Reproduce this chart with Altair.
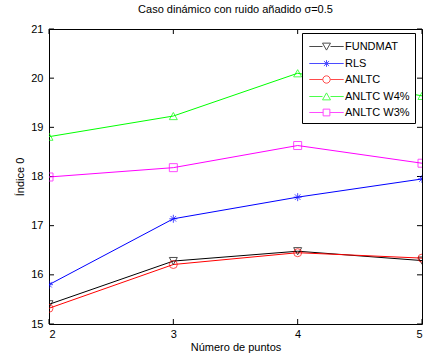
import altair as alt
import pandas as pd

# ---- data ----
x_puntos = [2, 3, 4, 5]
series = ["FUNDMAT", "RLS", "ANLTC", "ANLTC W4%", "ANLTC W3%"]
fundmat = [15.40, 16.28, 16.48, 16.29]
rls = [15.80, 17.14, 17.58, 17.95]
anltc = [15.32, 16.21, 16.45, 16.34]
anltc_w4 = [18.81, 19.23, 20.10, 19.64]
anltc_w3 = [17.99, 18.18, 18.63, 18.27]
colores = ["#000000", "#0000ff", "#ff0000", "#00ff00", "#ff00ff"]
x_ticks = [2, 3, 4, 5]
y_ticks = [15, 16, 17, 18, 19, 20, 21]

valores = [fundmat, rls, anltc, anltc_w4, anltc_w3]

# marker shapes (plot) and line+marker shapes (legend)
marcadores = [
    "M-1,-0.9L1,-0.9L0,0.9Z",
    "M-1,0L1,0M0,-1L0,1M-0.7,-0.7L0.7,0.7M-0.7,0.7L0.7,-0.7",
    "circle",
    "M-1,0.9L1,0.9L0,-0.9Z",
    "square",
]
# legend symbols: scale r = 8 px, line +-17 px, marker +-4 px
leyenda_simbolos = [
    "M-2.15,0L-0.5,0M0.5,0L2.15,0M-0.5,-0.42L0.5,-0.42L0,0.45Z",
    "M-2.15,0L2.15,0M0,-0.42L0,0.42M-0.32,-0.3L0.32,0.3M-0.32,0.3L0.32,-0.3",
    "M-2.15,0L-0.46,0M0.46,0L2.15,0M-0.46,0A0.46,0.46,0,1,1,0.46,0A0.46,0.46,0,1,1,-0.46,0",
    "M-2.15,0L-0.5,0M0.5,0L2.15,0M-0.5,0.42L0.5,0.42L0,-0.45Z",
    "M-2.15,0L-0.42,0M0.42,0L2.15,0M-0.42,-0.42L0.42,-0.42L0.42,0.42L-0.42,0.42Z",
]

rows = []
for s, vals in zip(series, valores):
    for xv, yv in zip(x_puntos, vals):
        rows.append({"serie": s, "x": xv, "y": yv})
df = pd.DataFrame(rows)
df_leg = pd.DataFrame({"Leyenda": series})
df_xt = pd.DataFrame({"t": x_ticks})
df_yt = pd.DataFrame({"t": y_ticks})

W, H = 373, 295
FONT = "Liberation Sans"

xscale = alt.Scale(domain=[2, 5], nice=False, zero=False)
yscale = alt.Scale(domain=[15, 21], nice=False, zero=False)

xenc = alt.X("x:Q", scale=xscale, axis=alt.Axis(
    title="Número de puntos", values=x_ticks, format="d", ticks=False, domain=False,
    grid=False, labelPadding=4, titlePadding=2,
    labelFont=FONT, labelFontSize=11, labelColor="black",
    titleFont=FONT, titleFontSize=11, titleFontWeight="normal", titleColor="black"))
yenc = alt.Y("y:Q", scale=yscale, axis=alt.Axis(
    title="Índice 0", values=y_ticks, format="d", ticks=False, domain=False,
    grid=False, labelPadding=6, titlePadding=5,
    labelFont=FONT, labelFontSize=11, labelColor="black",
    titleFont=FONT, titleFontSize=11, titleFontWeight="normal", titleColor="black"))

stroke_enc = alt.Stroke("serie:N", scale=alt.Scale(domain=series, range=colores), legend=None)

lineas = alt.Chart(df).mark_line(strokeWidth=1, clip=True).encode(
    x=xenc, y=yenc, stroke=stroke_enc, detail="serie:N")

puntos = alt.Chart(df).mark_point(filled=False, size=64, strokeWidth=1, clip=True).encode(
    x="x:Q", y="y:Q", stroke=stroke_enc,
    shape=alt.Shape("serie:N", scale=alt.Scale(domain=series, range=marcadores), legend=None))

leyenda = alt.Chart(df_leg).mark_point(filled=False, size=256, strokeWidth=1, clip=True).encode(
    x=alt.value(10), y=alt.value(-2000),
    stroke=alt.Stroke("Leyenda:N", scale=alt.Scale(domain=series, range=colores), legend=None),
    shape=alt.Shape("Leyenda:N", scale=alt.Scale(domain=series, range=leyenda_simbolos),
                    legend=alt.Legend(title=None, orient="none", legendX=253, legendY=4,
                                      strokeColor="black", fillColor="white", padding=5,
                                      labelFont=FONT, labelFontSize=11, labelColor="black",
                                      symbolOffset=11, labelOffset=10,
                                      symbolSize=256, symbolStrokeWidth=1,
                                      rowPadding=2)))

tick_base = alt.Chart(df_xt).mark_rule(color="black", strokeWidth=1)
xt_bot = tick_base.encode(x=alt.X("t:Q", scale=xscale), y=alt.value(H), y2=alt.value(H - 5))
xt_top = tick_base.encode(x=alt.X("t:Q", scale=xscale), y=alt.value(0), y2=alt.value(5))
ytick_base = alt.Chart(df_yt).mark_rule(color="black", strokeWidth=1)
yt_left = ytick_base.encode(y=alt.Y("t:Q", scale=yscale), x=alt.value(0), x2=alt.value(5))
yt_right = ytick_base.encode(y=alt.Y("t:Q", scale=yscale), x=alt.value(W), x2=alt.value(W - 5))

chart = alt.layer(
    xt_bot, xt_top, yt_left, yt_right, lineas, puntos, leyenda
).resolve_scale(
    shape="independent", stroke="independent"
).properties(
    width=W, height=H,
    background="white",
    title=alt.Title("Caso dinámico con ruido añadido σ=0.5", fontSize=11, font=FONT,
                    fontWeight="normal", color="black", offset=8),
    autosize=alt.AutoSizeParams(type="none"),
    padding={"left": 49, "top": 29, "right": 3, "bottom": 30},
).configure_view(
    stroke="black", strokeWidth=1
)

chart.save("out.html", embed_options={"renderer": "svg", "actions": False})
